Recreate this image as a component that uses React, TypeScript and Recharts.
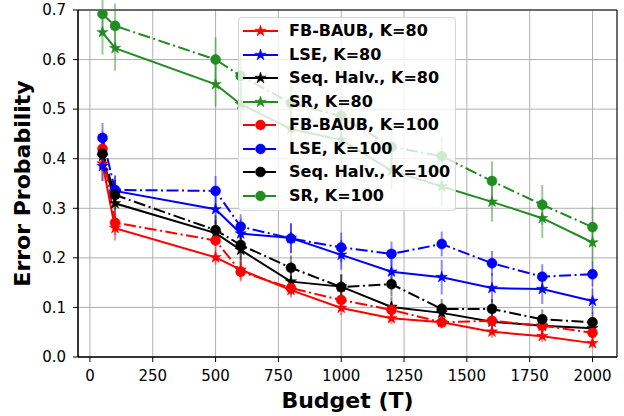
import React from 'react';
import { LineChart, Line, XAxis, YAxis, CartesianGrid, ErrorBar, ReferenceArea, Label } from 'recharts';

const budgets = [50, 100, 500, 600, 800, 1000, 1200, 1400, 1600, 1800, 2000];

const fbK80 = [0.39, 0.26, 0.201, 0.176, 0.135, 0.099, 0.078, 0.07, 0.051, 0.042, 0.028];
const lseK80 = [0.385, 0.335, 0.298, 0.249, 0.24, 0.206, 0.172, 0.161, 0.139, 0.137, 0.113];
const shK80 = [0.405, 0.31, 0.25, 0.216, 0.152, 0.142, 0.101, 0.089, 0.071, 0.063, 0.058];
const srK80 = [0.655, 0.623, 0.55, 0.51, 0.46, 0.438, 0.376, 0.344, 0.313, 0.28, 0.231];
const fbK100 = [0.42, 0.271, 0.235, 0.172, 0.139, 0.115, 0.095, 0.07, 0.073, 0.063, 0.049];
const lseK100 = [0.442, 0.337, 0.335, 0.263, 0.239, 0.221, 0.208, 0.228, 0.189, 0.162, 0.167];
const shK100 = [0.41, 0.327, 0.256, 0.226, 0.18, 0.141, 0.147, 0.097, 0.097, 0.076, 0.07];
const srK100 = [0.692, 0.668, 0.6, 0.567, 0.512, 0.486, 0.424, 0.405, 0.355, 0.307, 0.262];

const fbErr80 = [0.035, 0.025, 0.015, 0.02, 0.015, 0.015, 0.012, 0.012, 0.012, 0.012, 0.01];
const lseErr80 = [0.03, 0.03, 0.03, 0.03, 0.03, 0.03, 0.03, 0.035, 0.03, 0.03, 0.025];
const shErr80 = [0.03, 0.03, 0.025, 0.03, 0.025, 0.025, 0.02, 0.02, 0.02, 0.02, 0.02];
const srErr80 = [0.045, 0.045, 0.045, 0.045, 0.04, 0.04, 0.04, 0.04, 0.04, 0.04, 0.04];
const fbErr100 = [0.035, 0.025, 0.02, 0.02, 0.015, 0.015, 0.015, 0.012, 0.012, 0.012, 0.012];
const lseErr100 = [0.03, 0.03, 0.03, 0.025, 0.03, 0.03, 0.025, 0.025, 0.025, 0.025, 0.025];
const shErr100 = [0.03, 0.03, 0.03, 0.03, 0.025, 0.025, 0.025, 0.02, 0.02, 0.02, 0.02];
const srErr100 = [0.045, 0.045, 0.045, 0.045, 0.045, 0.04, 0.04, 0.04, 0.04, 0.04, 0.04];

const xTicks = [0, 250, 500, 750, 1000, 1250, 1500, 1750, 2000];
const yTicks = [0, 0.1, 0.2, 0.3, 0.4, 0.5, 0.6, 0.7];

const RED = '#ff0000';
const BLUE = '#0000ff';
const BLACK = '#000000';
const GREEN = '#228b22';
const DASHDOT = '12 3.5 2 3.5';
const FONT = '"DejaVu Sans", sans-serif';

type Series = { key: string; name: string; color: string; marker: 'star' | 'circle'; dashed: boolean; values: number[]; errs: number[] };

const series: Series[] = [
  { key: 'fb80', name: 'FB-BAUB, K=80', color: RED, marker: 'star', dashed: false, values: fbK80, errs: fbErr80 },
  { key: 'lse80', name: 'LSE, K=80', color: BLUE, marker: 'star', dashed: false, values: lseK80, errs: lseErr80 },
  { key: 'sh80', name: 'Seq. Halv., K=80', color: BLACK, marker: 'star', dashed: false, values: shK80, errs: shErr80 },
  { key: 'sr80', name: 'SR, K=80', color: GREEN, marker: 'star', dashed: false, values: srK80, errs: srErr80 },
  { key: 'fb100', name: 'FB-BAUB, K=100', color: RED, marker: 'circle', dashed: true, values: fbK100, errs: fbErr100 },
  { key: 'lse100', name: 'LSE, K=100', color: BLUE, marker: 'circle', dashed: true, values: lseK100, errs: lseErr100 },
  { key: 'sh100', name: 'Seq. Halv., K=100', color: BLACK, marker: 'circle', dashed: true, values: shK100, errs: shErr100 },
  { key: 'sr100', name: 'SR, K=100', color: GREEN, marker: 'circle', dashed: true, values: srK100, errs: srErr100 },
];

const data = budgets.map((b, i) => {
  const row: any = { budget: b };
  series.forEach((s) => {
    row[s.key] = s.values[i];
    row[s.key + 'Err'] = s.errs[i];
  });
  return row;
});

function starPoints(cx: number, cy: number, R: number) {
  const r = R * 0.382;
  const pts: string[] = [];
  for (let k = 0; k < 10; k++) {
    const a = ((-90 + k * 36) * Math.PI) / 180;
    const rad = k % 2 === 0 ? R : r;
    pts.push(`${cx + rad * Math.cos(a)},${cy + rad * Math.sin(a)}`);
  }
  return pts.join(' ');
}

function Marker({ cx, cy, s }: { cx: number; cy: number; s: Series }) {
  if (s.marker === 'star') {
    return <polygon points={starPoints(cx, cy, 6)} fill={s.color} stroke={s.color} strokeWidth={0.5} />;
  }
  return <circle cx={cx} cy={cy} r={5} fill={s.color} stroke={s.color} strokeWidth={0.5} />;
}

function hexToRgba(hex: string, a: number) {
  const r = parseInt(hex.slice(1, 3), 16);
  const g = parseInt(hex.slice(3, 5), 16);
  const b = parseInt(hex.slice(5, 7), 16);
  return `rgba(${r},${g},${b},${a})`;
}

function LegendBox() {
  return (
    <div
      style={{
        position: 'absolute',
        left: 238,
        top: 17,
        width: 218,
        height: 194,
        background: 'rgba(255,255,255,0.8)',
        border: '1px solid rgba(204,204,204,0.8)',
        borderRadius: 4,
        boxSizing: 'border-box',
        fontFamily: FONT,
        fontWeight: 'bold',
        fontSize: 16,
        color: '#000',
      }}
    >
      {series.map((s, i) => (
        <div key={s.key} style={{ position: 'absolute', left: 0, top: 3 + i * 23.5, height: 20, width: 216 }}>
          <svg width={44} height={20} style={{ position: 'absolute', left: 0, top: 0 }}>
            <line x1={4} x2={39} y1={10} y2={10} stroke={s.color} strokeWidth={2} strokeDasharray={s.dashed ? DASHDOT : undefined} />
            <Marker cx={21.5} cy={10} s={s} />
          </svg>
          <span style={{ position: 'absolute', left: 50, top: 0, lineHeight: '20px', whiteSpace: 'nowrap' }}>{s.name}</span>
        </div>
      ))}
    </div>
  );
}

export default function App() {
  return (
    <div style={{ position: 'absolute', left: 0, top: 0, width: 624, height: 416, background: '#fff' }}>
      <LineChart width={624} height={416} data={data} margin={{ top: 10, right: 7, left: 0, bottom: 0 }}>
        <CartesianGrid stroke="#b0b0b0" strokeWidth={1} />
        <XAxis
          type="number"
          dataKey="budget"
          domain={[-47.5, 2097.5]}
          ticks={xTicks}
          allowDataOverflow
          height={59}
          tickSize={5}
          tickMargin={8}
          tick={{ fill: '#000', fontSize: 15, fontFamily: FONT }}
          axisLine={{ stroke: '#000' }}
          tickLine={{ stroke: '#000' }}
        >
          <Label
            content={() => (
              <text x={347.5} y={408} textAnchor="middle" fontFamily={FONT} fontWeight="bold" fontSize={22} fill="#000">
                Budget (T)
              </text>
            )}
          />
        </XAxis>
        <YAxis
          type="number"
          domain={[0, 0.7]}
          ticks={yTicks}
          allowDataOverflow
          width={78}
          tickSize={5}
          tickMargin={7}
          tickFormatter={(v: number) => v.toFixed(1)}
          tick={{ fill: '#000', fontSize: 15, fontFamily: FONT }}
          axisLine={{ stroke: '#000' }}
          tickLine={{ stroke: '#000' }}
        >
          <Label
            content={() => (
              <text
                x={30}
                y={183.5}
                transform="rotate(-90 30 183.5)"
                textAnchor="middle"
                fontFamily={FONT}
                fontWeight="bold"
                fontSize={22}
                fill="#000"
              >
                Error Probability
              </text>
            )}
          />
        </YAxis>
        <ReferenceArea x1={-47.5} x2={2097.5} y1={0} y2={0.7} fill="none" stroke="#000" strokeWidth={1} ifOverflow="visible" />
        {series.map((s) => (
          <Line
            key={s.key}
            dataKey={s.key}
            name={s.name}
            stroke={s.color}
            strokeWidth={2}
            strokeDasharray={s.dashed ? DASHDOT : undefined}
            isAnimationActive={false}
            activeDot={false}
            dot={(p: any) => <Marker key={`${s.key}-${p.index}`} cx={p.cx} cy={p.cy} s={s} />}
          >
            <ErrorBar dataKey={s.key + 'Err'} direction="y" width={0} stroke={hexToRgba(s.color, 0.45)} strokeWidth={2} />
          </Line>
        ))}
      </LineChart>
      <LegendBox />
    </div>
  );
}
